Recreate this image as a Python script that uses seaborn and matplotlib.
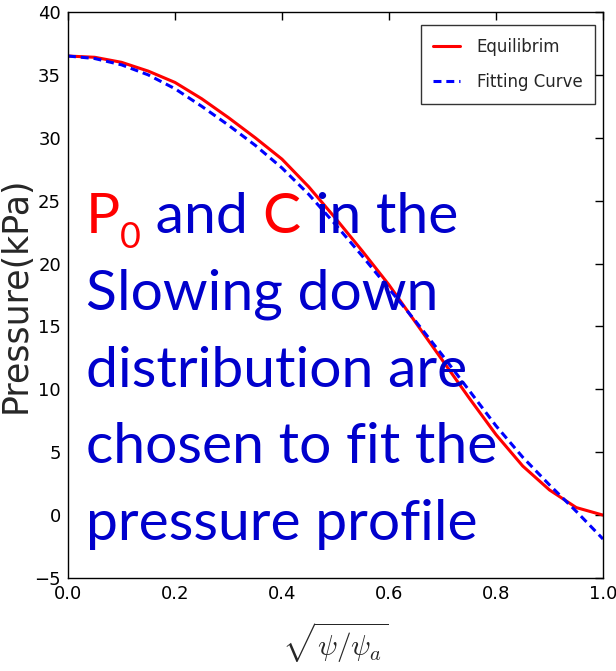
import matplotlib
matplotlib.use("Agg")
import matplotlib.pyplot as plt
import seaborn as sns
import pandas as pd

# Radial coordinate sqrt(psi/psi_a)
rho = [0.00, 0.05, 0.10, 0.15, 0.20, 0.25, 0.30, 0.35, 0.40, 0.45, 0.50,
       0.55, 0.60, 0.65, 0.70, 0.75, 0.80, 0.85, 0.90, 0.95, 1.00]
# Equilibrium pressure profile (kPa)
p_equilibrium = [36.5, 36.4, 36.0, 35.3, 34.4, 33.1, 31.6, 30.0, 28.3, 26.1, 23.6,
                 21.0, 18.3, 15.3, 12.3, 9.3, 6.4, 3.9, 2.0, 0.6, 0.0]
# Slowing-down distribution fit (kPa)
p_fit = [36.5, 36.3, 35.8, 35.0, 33.9, 32.5, 31.0, 29.4, 27.6, 25.5, 23.1,
         20.6, 18.0, 15.4, 12.7, 9.9, 7.1, 4.6, 2.4, 0.3, -1.9]

series_names = ["Equilibrim", "Fitting Curve"]
x_ticks = [0.0, 0.2, 0.4, 0.6, 0.8, 1.0]
y_ticks = [-5, 0, 5, 10, 15, 20, 25, 30, 35, 40]

df = pd.concat([
    pd.DataFrame({"rho": rho, "p": p_equilibrium, "curve": series_names[0]}),
    pd.DataFrame({"rho": rho, "p": p_fit, "curve": series_names[1]}),
])

sns.set_theme(style="white")
plt.rcParams.update({
    "font.family": ["DejaVu Sans"],
    "mathtext.fontset": "cm",
    "xtick.direction": "in",
    "ytick.direction": "in",
    "xtick.top": True,
    "ytick.right": True,
    "axes.edgecolor": "black",
    "axes.linewidth": 1.0,
})

W, H = 616, 671
fig = plt.figure(figsize=(W / 100, H / 100), dpi=100)
ax = fig.add_axes([68 / W, 1 - 578 / H, 535 / W, 566 / H])

sns.lineplot(data=df, x="rho", y="p", hue="curve", style="curve",
             palette={series_names[0]: "#ff0000", series_names[1]: "#0000ff"},
             dashes={series_names[0]: "", series_names[1]: (2.6, 1.6)},
             linewidth=2.2, ax=ax, estimator=None, sort=False)

ax.set_xlim(0, 1)
ax.set_ylim(-5, 40)
ax.set_xticks(x_ticks)
ax.set_yticks(y_ticks)
ax.set_xticklabels([f"{v:.1f}" for v in x_ticks])
ax.set_yticklabels([f"{v:d}".replace("-", "\u2212") for v in y_ticks])
ax.tick_params(labelsize=13, colors="black", width=1, length=6, pad=5)
ax.set_xlabel(r"$\sqrt{\psi/\psi_a}$", fontsize=21, labelpad=12)
ax.set_ylabel("Pressure(kPa)", fontsize=25, labelpad=1)

leg = ax.legend(loc="upper right", bbox_to_anchor=(595 / W, 1 - 25 / H),
                bbox_transform=fig.transFigure, borderaxespad=0,
                fontsize=12, frameon=True,
                fancybox=False, edgecolor="black", handlelength=1.6,
                handletextpad=1.0, borderpad=0.75, labelspacing=1.05,
                title=None)
leg.get_frame().set_linewidth(1.0)

# Annotation block over the plot
blue = "#0000cc"
red = "#ff0000"
fs = 41
fam = ["Lato", "DejaVu Sans"]
renderer = fig.canvas.get_renderer()


def run(x_px, base_px, pieces):
    x = x_px
    for text, color, size, dy in pieces:
        t = fig.text(x / W, 1 - (base_px + dy) / H, text, color=color,
                     fontsize=size, family=fam, va="baseline", ha="left")
        bb = t.get_window_extent(renderer=renderer)
        x += bb.width


x0 = 86
run(x0, 233, [("P", red, fs, 0), ("0", red, fs * 0.63, 15),
              (" and ", blue, fs, 0), ("C", red, fs, 0), (" in the", blue, fs, 0)])
run(x0, 310, [("Slowing down", blue, fs, 0)])
run(x0, 387, [("distribution are", blue, fs, 0)])
run(x0, 463, [("chosen to fit the", blue, fs, 0)])
run(x0, 540, [("pressure profile", blue, fs, 0)])

fig.savefig("out.png", dpi=100)
